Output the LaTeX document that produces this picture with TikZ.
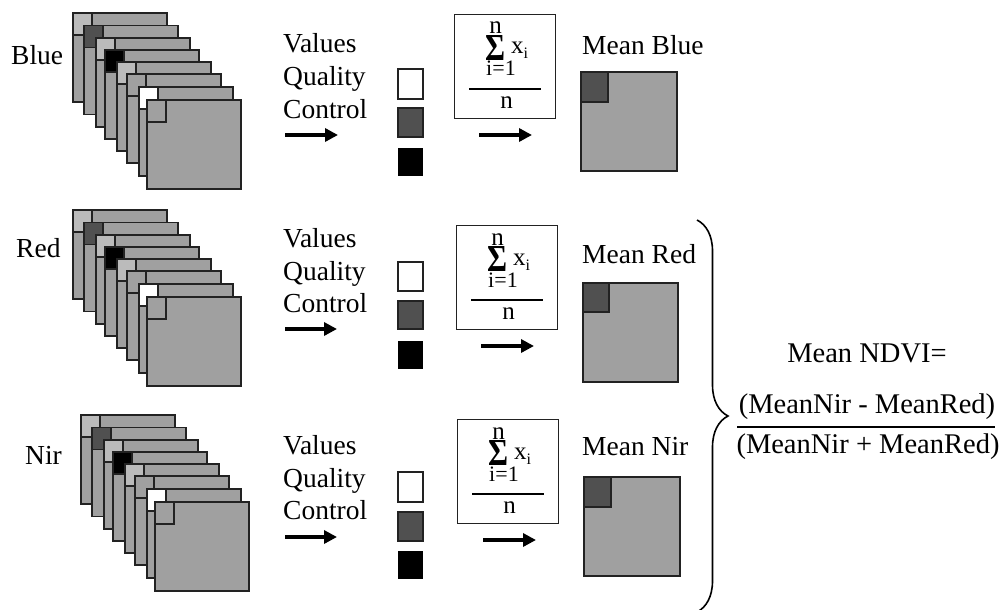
\documentclass[tikz,border=0pt]{standalone}
\usepackage{fontspec}
\setmainfont{Liberation Serif}
\usetikzlibrary{arrows.meta,decorations.pathreplacing}
\definecolor{fillgray}{HTML}{A0A0A0}
\definecolor{lightcell}{HTML}{BBBBBB}
\definecolor{darkcell}{HTML}{505050}
\definecolor{edgecol}{HTML}{222222}
\tikzset{
  sq/.style={draw=edgecol, line width=1.4pt, fill=fillgray},
  qsq/.style={draw=edgecol, line width=1.4pt},
  lbl/.style={font=\fontsize{27.5}{33}\selectfont, inner sep=0pt, anchor=base west},
  ndvi/.style={font=\fontsize{28.5}{34}\selectfont, inner sep=0pt, anchor=base},
  fn/.style={font=\fontsize{25}{28}\selectfont, inner sep=0pt, anchor=base},
  flim/.style={font=\fontsize{22}{26}\selectfont, inner sep=0pt, anchor=base},
  fbox/.style={draw=edgecol, line width=1.4pt, inner sep=0pt, anchor=north west},
  arr/.style={line width=3.6pt, -{Triangle[length=13pt,width=13pt]}},
}
\newcommand\mystack[3]{%
  \foreach \dx/\dy/\c in {0/0/lightcell,11/12.5/darkcell,23/25/lightcell,32/37/black,44/49/lightcell,54/61/fillgray,66/74/white,74/87/fillgray}{
    \draw[sq] (#1+\dx,#2+\dy) rectangle ++(94,89);
    \draw[sq,fill=\c] (#1+\dx,#2+\dy) rectangle ++(19,22);
  }
  \coordinate (#3) at (#1,#2);
}
\newcommand\myformula[3]{%
  \node[fbox, minimum width=101pt, minimum height=104pt] (#3) at (#1,#2) {};
  \begin{scope}[shift={(#1,#2)}]
    \node[fn] (#3n) at (41.5,20) {n};
    \node[inner sep=0pt, anchor=south west] (#3s) at (31.5,47) {\resizebox{20pt}{25pt}{\bfseries Σ}};
    \node[font=\fontsize{25}{28}\selectfont, inner sep=0pt, anchor=base west] (#3x) at (57,40) {x\raisebox{-5pt}{\fontsize{16}{18}\selectfont i}};
    \node[flim] (#3i) at (47,62) {i=1};
    \draw[line width=1.2pt] (15,75) -- (87,75);
    \node[fn] (#3d) at (52.5,94) {n};
  \end{scope}
}
\begin{document}
\begin{tikzpicture}[x=1pt,y=-1pt]
\useasboundingbox (0,0) rectangle (1004,610);
\fill[white] (0,0) rectangle (1004,610);

% ---------- Row 1: Blue ----------
\node[lbl] (blue) at (11,65) {Blue};
\mystack{73}{13}{stackB}
\node[lbl] (v1a) at (283,53) {Values};
\node[lbl] (v1b) at (283,85) {Quality};
\node[lbl] (v1c) at (283,118) {Control};
\coordinate (a1s) at (285,135); \coordinate (a1e) at (338,135);
\draw[arr] (a1s) -- (a1e);
\draw[qsq,fill=white] (398,69) rectangle (423,99);
\draw[qsq,fill=darkcell] (398,108) rectangle (423,137);
\fill[black] (398,148) rectangle (423,176);
\myformula{454}{14}{f1}
\coordinate (b1s) at (479,135); \coordinate (b1e) at (532,135);
\draw[arr] (b1s) -- (b1e);
\node[lbl] (m1) at (582,55) {Mean Blue};
\draw[sq] (581,72) rectangle (677,171);
\draw[sq,fill=darkcell] (581,72) rectangle (608,102);

% ---------- Row 2: Red ----------
\node[lbl] (red) at (16,257) {Red};
\mystack{73}{210}{stackR}
\node[lbl] (v2a) at (283,247) {Values};
\node[lbl] (v2b) at (283,280) {Quality};
\node[lbl] (v2c) at (283,312) {Control};
\coordinate (a2s) at (285,329); \coordinate (a2e) at (337,329);
\draw[arr] (a2s) -- (a2e);
\draw[qsq,fill=white] (398,262) rectangle (423,291);
\draw[qsq,fill=darkcell] (398,301) rectangle (423,329);
\fill[black] (398,341) rectangle (423,369);
\myformula{456}{225}{f2}
\coordinate (b2s) at (481,346); \coordinate (b2e) at (534,346);
\draw[arr] (b2s) -- (b2e);
\node[lbl] (m2) at (582,263) {Mean Red};
\draw[sq] (583,283) rectangle (678,382);
\draw[sq,fill=darkcell] (583,283) rectangle (609,312);

% ---------- Row 3: Nir ----------
\node[lbl] (nir) at (25,464) {Nir};
\mystack{81}{415}{stackN}
\node[lbl] (v3a) at (283,454) {Values};
\node[lbl] (v3b) at (283,487) {Quality};
\node[lbl] (v3c) at (283,519) {Control};
\coordinate (a3s) at (285,537); \coordinate (a3e) at (337,537);
\draw[arr] (a3s) -- (a3e);
\draw[qsq,fill=white] (398,472) rectangle (423,502);
\draw[qsq,fill=darkcell] (398,512) rectangle (423,541);
\fill[black] (398,551) rectangle (423,579);
\myformula{457}{419}{f3}
\coordinate (b3s) at (483,540); \coordinate (b3e) at (536,540);
\draw[arr] (b3s) -- (b3e);
\node[lbl] (m3) at (582,455) {Mean Nir};
\draw[sq] (584,477) rectangle (680,576);
\draw[sq,fill=darkcell] (584,477) rectangle (611,507);

% ---------- Brace and NDVI ----------
\coordinate (brTop) at (697,220); \coordinate (brBot) at (697,612);
\draw[line width=1.6pt, decorate, decoration={brace, amplitude=31pt}] (brTop) -- (brBot);
\node[ndvi] (nd) at (867,362) {Mean NDVI=};
\node[ndvi] (num) at (867,413) {(MeanNir - MeanRed)};
\draw[line width=1.2pt] (737,427) -- (995,427);
\node[ndvi] (den) at (868,453) {(MeanNir + MeanRed)};
\end{tikzpicture}
\end{document}
